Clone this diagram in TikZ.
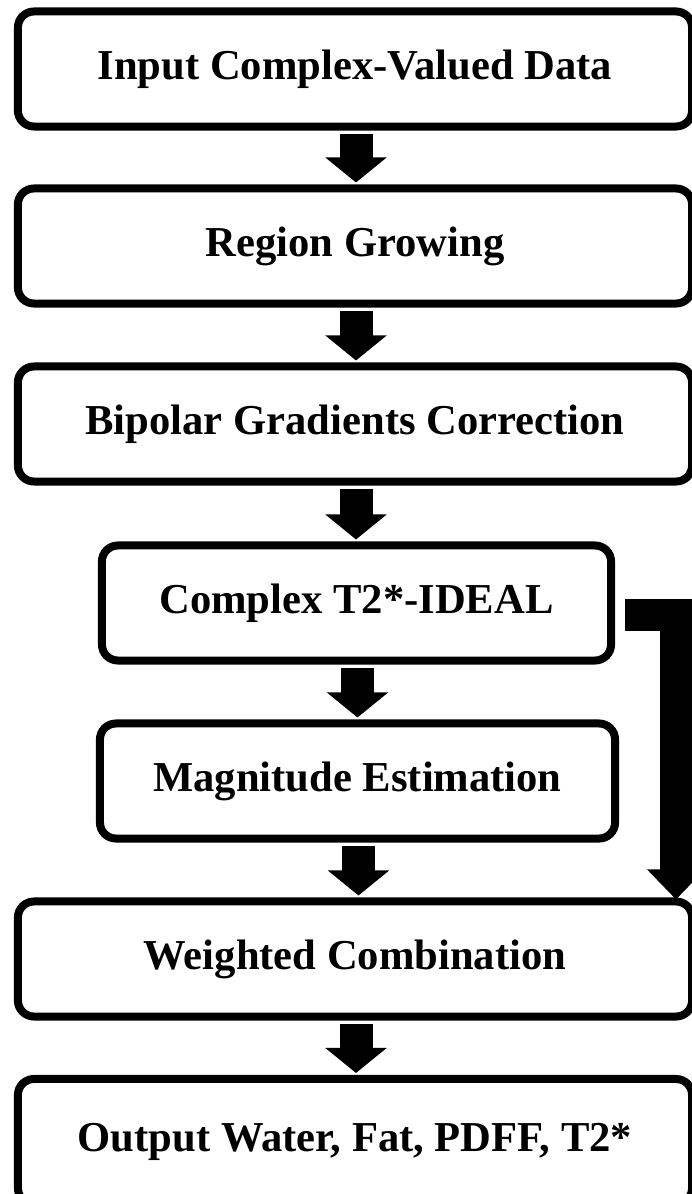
\documentclass[tikz,border=0pt]{standalone}
\usepackage{fontspec}
\setmainfont{Liberation Serif}
\usetikzlibrary{calc,arrows.meta}

\begin{document}
\begin{tikzpicture}[x=0.025cm,y=-0.025cm,
	stepbox/.style={draw, line width=0.2cm, rounded corners=0.4cm, inner sep=0pt, minimum height=2.875cm, font=\fontsize{30.3}{36}\selectfont\bfseries},
	widebox/.style={stepbox, minimum width=16.85cm},
	flowarrow/.style={line width=0.825cm, -{Triangle[length=0.625cm, width=1.5cm]}},
	sidebar/.style={line width=0.8cm, miter limit=10, -{Triangle[length=0.75cm, width=1.4cm]}}]
\useasboundingbox (0,0) rectangle (691,1194);

\node[widebox] (b1) at (355,69) {Input Complex-Valued Data};
\node[widebox] (b2) at (355,246) {Region Growing};
\node[widebox] (b3) at (355,424) {Bipolar Gradients Correction};
\node[stepbox, minimum width=12.725cm] (b4) at (356.5,603) {Complex T2*-IDEAL};
\node[stepbox, minimum width=12.875cm] (b5) at (357.5,781) {Magnitude Estimation};
\node[widebox] (b6) at (355,959) {Weighted Combination};
\node[widebox, minimum height=3.125cm] (b7) at (355,1141.5) {Output Water, Fat, PDFF, T2*};

\foreach \a/\b in {b1/b2,b2/b3,b3/b4,b4/b5,b5/b6,b6/b7}{
	\draw[flowarrow] ($(\a.south)+(1,3)$) -- ($(\a.south |- \b.north)+(1,-2)$);
}
\draw[sidebar] ($(b4.east)+(10,12)$) -| ($(b6.north)+(321,2)$);

\end{tikzpicture}
\end{document}
